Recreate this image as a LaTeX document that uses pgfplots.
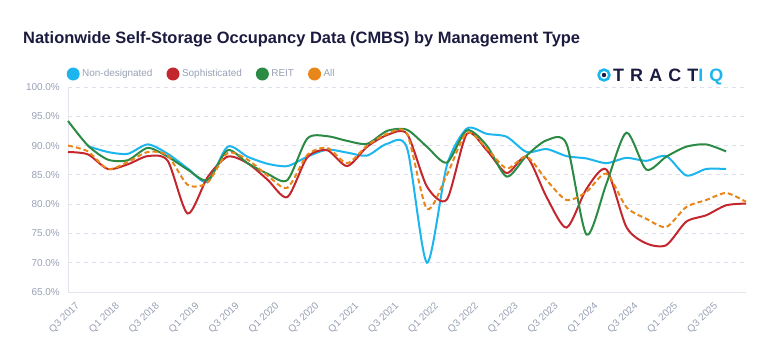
\documentclass[border=0pt]{standalone}
\usepackage{fontspec}
\setmainfont{Liberation Sans}
\usepackage{pgfplots}
\pgfplotsset{compat=1.18}
\definecolor{cblue}{HTML}{1CB5EE}
\definecolor{cred}{HTML}{C4262E}
\definecolor{cgreen}{HTML}{2B8A44}
\definecolor{corange}{HTML}{E8861A}
\definecolor{ctick}{HTML}{98A0B4}
\definecolor{cgrid}{HTML}{DDE0EC}
\definecolor{caxis}{HTML}{E3E5EE}
\definecolor{ctitle}{HTML}{1B1A3F}
\begin{document}
\begin{tikzpicture}[x=1bp,y=1bp]
\path[use as bounding box] (0,0) rectangle (768,356);
\node[anchor=base west, inner sep=0pt, text=ctitle, font=\bfseries\fontsize{16.5}{19}\selectfont] at (23,313) {Nationwide Self-Storage Occupancy Data (CMBS) by Management Type};
% logo
\draw[cblue, line width=2.6bp] (604,281) circle (5.4bp);
\fill[ctitle] (604,281) circle (2.2bp);
\node[anchor=base west, inner sep=0pt, font=\bfseries\fontsize{18}{20}\selectfont\addfontfeature{LetterSpace=34}] at (613,274.5) {\textcolor{ctitle}{TRACT}\textcolor{cblue}{IQ}};
\begin{axis}[
  at={(68bp,64bp)}, anchor=south west,
  scale only axis, width=678bp, height=205bp,
  xmin=0, xmax=34, ymin=65, ymax=100,
  axis x line*=bottom, axis y line*=left,
  axis line style={caxis, line width=1bp, -},
  major tick length=0pt,
  ytick={65,70,...,100},
  yticklabels={65.0\%,70.0\%,75.0\%,80.0\%,85.0\%,90.0\%,95.0\%,100.0\%},
  xtick={0,2,...,32},
  xticklabels={Q3 2017,Q1 2018,Q3 2018,Q1 2019,Q3 2019,Q1 2020,Q3 2020,Q1 2021,Q3 2021,Q1 2022,Q3 2022,Q1 2023,Q3 2023,Q1 2024,Q3 2024,Q1 2025,Q3 2025},
  ymajorgrids,
  grid style={cgrid, line width=0.8bp, dash pattern=on 4bp off 4bp},
  yticklabel style={font=\fontsize{10}{12}\selectfont, text=ctick, inner sep=0pt, anchor=east, xshift=-8bp},
  xticklabel style={font=\fontsize{10}{12}\selectfont, text=ctick, inner sep=0pt, anchor=north east, xshift=7bp, yshift=-9bp, rotate=45},
  legend columns=4,
  legend image code/.code={\fill[draw=none] (6.5bp,0bp) circle (6.5bp);},
  legend style={draw=none, fill=none, at={(0,1)}, anchor=west, xshift=-1.5bp, yshift=13bp, inner sep=0pt,
    font=\fontsize{10}{12}\selectfont, text=ctick,
    nodes={inner sep=0pt},
    /tikz/every odd column/.append style={column sep=2.5bp},
    /tikz/every even column/.append style={column sep=14bp}},
  clip=false,
]
\addplot[cblue, line width=2bp, smooth, tension=0.45] coordinates {
(1,89.9)(2,88.9)(3,88.6)(4,90.2)(5,88.6)(6,86.1)(7,83.8)(8,89.8)(9,88.1)(10,86.9)(11,86.5)(12,88.1)(13,89.3)(14,88.8)(15,88.3)(16,90.3)(17,89.6)(18,70.0)(19,86.6)(20,92.9)(21,92.0)(22,91.5)(23,88.9)(24,89.4)(25,88.2)(26,87.8)(27,87.0)(28,87.9)(29,87.4)(30,88.2)(31,84.9)(32,86.0)(33,86.0)};
\addlegendentry{Non-designated}
\addplot[cred, line width=2bp, smooth, tension=0.45] coordinates {
(0,88.9)(1,88.5)(2,86.0)(3,86.8)(4,88.2)(5,87.4)(6,78.4)(7,84.6)(8,88.1)(9,87.0)(10,84.2)(11,81.2)(12,88.0)(13,89.2)(14,86.5)(15,89.8)(16,91.8)(17,92.0)(18,83.0)(19,80.8)(20,92.0)(21,89.2)(22,85.3)(23,88.1)(24,81.2)(25,76.0)(26,82.6)(27,85.9)(28,76.1)(29,73.3)(30,73.0)(31,77.0)(32,78.1)(33,79.8)(34,80.1)};
\addlegendentry{Sophisticated}
\addplot[cgreen, line width=2bp, smooth, tension=0.45] coordinates {
(0,94.2)(1,90.0)(2,87.6)(3,87.5)(4,89.6)(5,88.1)(6,85.9)(7,84.1)(8,89.2)(9,87.0)(10,85.2)(11,84.1)(12,91.2)(13,91.6)(14,90.8)(15,90.3)(16,92.5)(17,92.7)(18,89.8)(19,87.1)(20,92.6)(21,90.0)(22,84.7)(23,88.3)(24,90.9)(25,90.3)(26,74.8)(27,83.5)(28,92.2)(29,85.9)(30,88.1)(31,89.8)(32,90.2)(33,89.0)};
\addlegendentry{REIT}
\addplot[corange, line width=2bp, dash pattern=on 5bp off 3bp, smooth, tension=0.45] coordinates {
(0,90.0)(1,89.0)(2,86.0)(3,87.2)(4,88.9)(5,88.3)(6,83.3)(7,83.7)(8,88.7)(9,87.6)(10,84.9)(11,82.8)(12,88.4)(13,89.6)(14,87.0)(15,90.0)(16,92.0)(17,92.0)(18,79.2)(19,85.0)(20,92.2)(21,89.5)(22,86.1)(23,88.1)(24,84.1)(25,80.7)(26,82.1)(27,85.2)(28,79.5)(29,77.5)(30,76.1)(31,79.5)(32,80.7)(33,81.9)(34,80.4)};
\addlegendentry{All}
\end{axis}
\end{tikzpicture}
\end{document}
